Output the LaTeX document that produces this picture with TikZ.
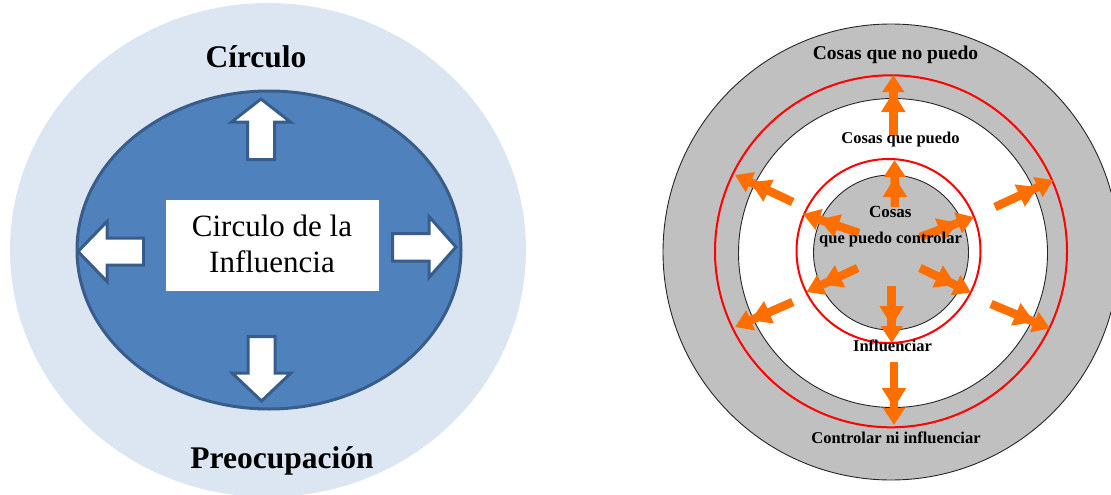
\documentclass[tikz,border=0pt]{standalone}
\usepackage{fontspec}
\setmainfont{Liberation Serif}
\usetikzlibrary{arrows.meta}
\definecolor{lightblue}{HTML}{DCE6F2}
\definecolor{midblue}{HTML}{4F81BD}
\definecolor{darkblue}{HTML}{385D8A}
\definecolor{ringgray}{HTML}{C0C0C0}
\definecolor{orng}{HTML}{FF6F00}
\begin{document}
\begin{tikzpicture}[x=1pt,y=-1pt,
  blockarrow/.style={fill=white,draw=darkblue,line width=3pt,line join=miter},
  ring/.style={draw=black!85,line width=0.9pt},
  redring/.style={draw=red,line width=2pt},
  orarrow/.style={draw=orng,line width=8.5pt,-{Triangle[length=20pt,width=23pt]Triangle[length=17pt,width=21pt]}},
  bigtitle/.style={font=\fontsize{31.5}{35}\selectfont\bfseries,anchor=base,inner sep=0pt},
  boxtext/.style={font=\fontsize{31}{36}\selectfont,anchor=base,inner sep=0pt},
  rtext/.style={font=\fontsize{16.5}{19}\selectfont\bfseries,anchor=base,inner sep=0pt},
]
\useasboundingbox (0,0) rectangle (1111,495);
\clip (0,0) rectangle (1111,495);

% ---------------- left diagram ----------------
\fill[lightblue] (268,250) ellipse [x radius=258pt, y radius=247pt];
\draw[fill=midblue,draw=darkblue,line width=3pt] (269,250) ellipse [x radius=192pt, y radius=159pt];

% block arrows
\draw[blockarrow] (261,99) -- (290.5,122) -- (274.5,122) -- (274.5,159.5) -- (247.5,159.5) -- (247.5,122) -- (231.5,122) -- cycle;
\draw[blockarrow] (261.5,401) -- (291,373) -- (275,373) -- (275,336.5) -- (248,336.5) -- (248,373) -- (232,373) -- cycle;
\draw[blockarrow] (78,251.5) -- (107,221.5) -- (107,238) -- (143.5,238) -- (143.5,265) -- (107,265) -- (107,281.5) -- cycle;
\draw[blockarrow] (456,247) -- (429,216.5) -- (429,233.5) -- (392.5,233.5) -- (392.5,261) -- (429,261) -- (429,277.5) -- cycle;

\node[fill=white,minimum width=213pt,minimum height=91pt,inner sep=0pt] (box) at (272.5,245.5) {};
\node[boxtext] (t1) at (272,236.7) {Circulo de la};
\node[boxtext] (t2) at (272,272.7) {Influencia};

\node[bigtitle] (circ) at (256,67) {Círculo};
\node[bigtitle] (preo) at (282,468) {Preocupación};

% ---------------- right diagram ----------------
\draw[ring,fill=ringgray] (891,252) circle [radius=228pt];
\draw[redring] (891,251.3) circle [radius=176pt];
\draw[ring,fill=white] (893,253) circle [radius=154.5pt];
\draw[redring] (888.5,251) circle [radius=92pt];
\draw[ring,fill=ringgray] (891,252.5) circle [radius=77.5pt];

% arrow end points
\coordinate (a1s) at (895,207);   \coordinate (a1e) at (894.5,160);
\coordinate (a2s) at (859,233);   \coordinate (a2e) at (803,214);
\coordinate (a3s) at (920,237);   \coordinate (a3e) at (974,217);
\coordinate (a4s) at (857.7,268); \coordinate (a4e) at (806.5,292);
\coordinate (a5s) at (920,268);   \coordinate (a5e) at (971,292.5);
\coordinate (a6s) at (891.7,286); \coordinate (a6e) at (891.7,343);
\coordinate (b1s) at (893.3,136); \coordinate (b1e) at (893.3,75);
\coordinate (b2s) at (792.7,202); \coordinate (b2e) at (735,175);
\coordinate (b3s) at (995,207);   \coordinate (b3e) at (1053.3,180);
\coordinate (b4s) at (792.7,302); \coordinate (b4e) at (735,327);
\coordinate (b5s) at (991,304);   \coordinate (b5e) at (1050,328.5);
\coordinate (b6s) at (894,361.7); \coordinate (b6e) at (894,425);

\foreach \p in {a1,a2,a3,a4,a5,a6,b1,b2,b3,b4,b5,b6}
  \draw[orarrow] (\p s) -- (\p e);

\node[rtext,font=\fontsize{19.5}{22}\selectfont\bfseries] (r1) at (895.5,59.3) {Cosas que no puedo};
\node[rtext] (r2) at (900.5,143.3) {Cosas que puedo};
\node[rtext,font=\fontsize{17}{20}\selectfont\bfseries] (r3) at (890.3,217.3) {Cosas};
\node[rtext] (r4) at (890.5,243.5) {que puedo controlar};
\node[rtext] (r5) at (892.5,351.7) {Influenciar};
\node[rtext] (r6) at (896,443.3) {Controlar ni influenciar};
\end{tikzpicture}
\end{document}
